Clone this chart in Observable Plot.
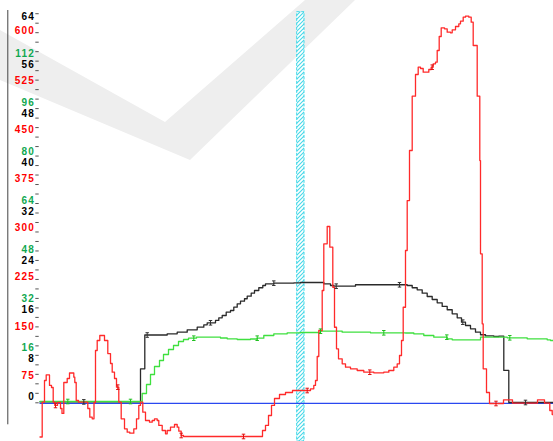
<!DOCTYPE html>
<html><head><meta charset="utf-8">
<script src="https://cdn.jsdelivr.net/npm/d3@7"></script>
<script src="https://cdn.jsdelivr.net/npm/@observablehq/plot@0.6"></script>
<style>body{margin:0;background:#fff}</style>
</head><body><div id="chart"></div>
<script>
// Axis tick labels (each series has its own scale)
const blackLabels = [0, 8, 16, 24, 32, 40, 48, 56, 64];
const redLabels = [75, 150, 225, 300, 375, 450, 525, 600];
const greenLabels = [16, 32, 48, 64, 80, 96, 112];

// Series: [time, value] in each series' own units (step-after)
const redSeries = [
  [0,-26.4],[2.2,26.7],[4.5,59.8],[6.2,68.2],[9.5,52.2],[11.5,49.1],[13.2,26.7],[14.8,21.7],
  [17.5,26.2],[20.5,17.1],[22,9.5],[23.8,56.7],[27.2,62.8],[29.5,71.2],[33.8,64.8],[34.8,56.7],
  [36.2,29.3],[38.5,26.7],[47.8,17.1],[49.8,3.8],[52.2,1.4],[54,26.2],[55.5,105.5],[57.2,120.8],
  [59.8,128.4],[64.5,120.8],[67.8,100.9],[70.5,85.7],[72.2,72.4],[74.5,62.8],[76.5,49.6],[78.8,26.7],
  [81.2,1.4],[84.5,-13.9],[87.2,-19.1],[89.8,-20.6],[93.8,-13.9],[96.5,1.4],[98.8,21.7],[100.5,26.7],
  [102.8,11.4],[105.5,-1.2],[109.5,-3.8],[112.2,-1.2],[114.5,1.4],[117.2,-1.2],[118.8,-8.8],[122.2,-16.5],
  [125.5,-21.5],[127.2,-16.5],[130.5,-11.4],[134.5,-7.3],[137.2,-11.4],[138.8,-17.5],[141.2,-24.1],[143.5,-25.6],
  [222.5,-16.5],[225.5,-8.8],[228.5,6.4],[231.5,21.7],[234.5,32.3],[239.5,38.4],[245.5,41.5],[252.5,44.5],
  [270.5,47.1],[273.8,52.2],[275.5,59.8],[277.2,96.4],[278.8,136.0],[282.2,197.0],[283.8,268.2],[287.2,294.6],
  [289.8,263.0],[292.8,202.0],[294.5,141.0],[296.5,108.1],[298.5,92.9],[302.2,85.2],[305.5,80.1],[310.5,77.6],
  [317.2,75.0],[323.8,72.4],[333.8,71.5],[343.8,72.4],[348.8,75.0],[353.8,80.1],[357.2,85.2],[359.5,97.9],
  [361.5,120.8],[363.2,171.5],[365.5,258.0],[367.2,334.2],[369.5,410.5],[372.2,493.3],[375.5,526.4],[378.2,537.5],
  [380.5,535.5],[383.2,529.9],[388.8,534.0],[391.2,537.5],[393.2,542.7],[395.5,545.1],[397.2,563.0],[399.2,584.3],
  [401.2,597.6],[404.5,596.1],[407.2,590.9],[410.5,590.0],[412.2,594.5],[415.5,599.6],[418.8,603.7],[420.5,607.7],
  [423.2,613.8],[425.5,615.3],[428.8,613.8],[431.2,606.1],[433.2,570.6],[437.2,493.3],[439.8,395.2],[440.5,253.0],
  [442.2,146.2],[443.2,77.6],[446.5,41.5],[449.5,24.7],[463.5,30.3],[472.5,25.2],[497.5,30.3],[504.5,25.2],
  [509.8,14.0],[512.2,7.9],[513.5,7.9]
];
const blackSeries = [
  [0,0.1],[100.5,5.51],[104.8,11.04],[127.2,11.24],[137.2,11.50],[147.2,11.89],[157.2,12.32],[163.8,12.71],
  [167.2,13.04],[175.5,13.42],[178.8,13.86],[182.2,14.23],[186.2,14.77],[190.5,15.05],[193.8,15.59],[197.2,16.15],
  [200.5,16.57],[204.5,16.97],[207.2,17.39],[211.2,17.88],[214.5,18.32],[218.8,18.77],[222.8,19.14],[225.5,19.42],
  [233.8,19.52],[253.8,19.58],[260.5,19.63],[283.8,19.42],[290.5,19.14],[293.8,19.03],[315.5,19.26],[367.2,19.14],
  [372.2,18.77],[377.2,18.44],[382.2,17.88],[387.2,17.34],[392.2,16.85],[397.2,16.31],[402.2,15.71],[407.2,15.17],
  [412.2,14.51],[417.2,13.86],[421.5,13.14],[425.5,12.60],[430.5,12.06],[435.5,11.50],[440.5,11.08],[445.5,10.91],
  [453.8,10.80],[458.8,10.85],[463.8,5.24],[468.8,0],[513.5,0]
];
const greenSeries = [
  [0,-3.15],[102.2,-0.54],[106.5,2.40],[110.5,5.66],[114.5,8.27],[119.5,10.23],[123.5,12.18],[128.5,13.81],
  [133.5,15.12],[138.5,16.42],[143.5,17.08],[148.5,17.50],[156.5,17.83],[180.5,17.57],[187.2,17.31],[197.2,17.08],
  [210.5,17.24],[217.2,17.50],[223.8,18.38],[233.8,18.94],[247.2,19.26],[260.5,19.36],[280.5,19.78],[302.2,19.46],
  [330.5,19.26],[365.5,19.20],[373.8,18.94],[383.8,18.38],[393.8,17.83],[407.2,17.31],[412.2,16.98],[440.5,17.83],
  [467.2,17.63],[487.2,17.31],[507.2,16.98],[510.5,16.75],[513.5,16.59]
];
// Sample marker times
const redMarkers = [15.5, 77.8, 141.2, 203.5, 267.2, 329.8, 392.2, 456];
const blackMarkers = [43.8, 107.2, 170.5, 233.8, 296.2, 359.5, 422.8, 485.5];
const greenMarkers = [27.8, 90.5, 153.8, 217.2, 280.5, 343.8, 406.8, 469.8];
// Highlighted time window
const bandStart = [257.2];
const bandEnd = [264.5];

// Each series' scale expressed in the common (black) scale
const redToCommon = d3.scaleLinear().domain([75, 600]).range([5.233, 61.559]);
const greenToCommon = d3.scaleLinear().domain([16, 112]).range([9.767, 57.914]);
const blackToCommon = v => v;

const rows = (s, f) => s.map(([t, v]) => ({t, y: f(v)}));
const valueAt = (s, t) => { let v = s[0][1]; for (const [tt, vv] of s) if (tt <= t) v = vv; return v; };
const markRows = (m, s, f) => m.map(t => ({t, y: f(valueAt(s, t))}));

const ibeam = {
  draw(ctx, size) {
    const s = Math.sqrt(size / Math.PI);
    const w = s * 0.75;
    ctx.moveTo(-w, -s); ctx.lineTo(w, -s);
    ctx.moveTo(0, -s); ctx.lineTo(0, s);
    ctx.moveTo(-w, s); ctx.lineTo(w, s);
  }
};

const tickCount = 42, tickStep = 1.5526;
const ticks = d3.range(tickCount).map(k => -0.05 + k * tickStep);

const labelFont = {fontSize: 10, fontWeight: "bold", fontFamily: "'Liberation Sans', Arial, sans-serif", frameAnchor: "left", dx: 34.5, textAnchor: "end"};

const svg = Plot.plot({
  width: 553, height: 441,
  marginLeft: 0, marginRight: 0, marginTop: 0, marginBottom: 0,
  style: {background: "#fff", overflow: "visible"},
  x: {domain: [0, 513.5], range: [39.5, 553], axis: null},
  y: {domain: [0, 64], range: [402, 10.8], axis: null},
  marks: [
    Plot.rect(bandStart.map((s, i) => ({x1: s, x2: bandEnd[i]})), {x1: "x1", x2: "x2", insetTop: 11.7, fill: "#fff", stroke: "#40d8e8", strokeDasharray: "3,1.5", strokeWidth: 1, ariaLabel: "hatch-band"}),
    Plot.ruleX([-32.2], {y1: 64.13, y2: -3.65, stroke: "#444", strokeWidth: 1}),
    Plot.tickY(ticks, {insetLeft: 35.3, insetRight: 514.3, stroke: "#555", strokeWidth: 1}),
    Plot.text(blackLabels.filter(d => d > 0), {...labelFont, y: d => blackToCommon(d), text: d => String(d), dy: 5, fill: "#000"}),
    Plot.text(blackLabels.filter(d => d === 0), {...labelFont, y: d => blackToCommon(d), text: d => String(d), dy: -5.3, fill: "#000"}),
    Plot.text(redLabels, {...labelFont, y: d => redToCommon(d), text: d => String(d), dy: 5, fill: "#ff0000"}),
    Plot.text(greenLabels, {...labelFont, y: d => greenToCommon(d), text: d => String(d), dy: 5, fill: "#10a850"}),
    Plot.ruleY([0], {x1: 0, x2: 513.5, dy: 0.8, stroke: "#2a48f0", strokeWidth: 1.3}),
    Plot.line(rows(blackSeries, blackToCommon), {x: "t", y: "y", curve: "step-after", stroke: "#2a2a2a", strokeWidth: 1.3}),
    Plot.line(rows(greenSeries, greenToCommon), {x: "t", y: "y", curve: "step-after", stroke: "#3fe03f", strokeWidth: 1.3}),
    Plot.line(rows(redSeries, redToCommon), {x: "t", y: "y", curve: "step-after", stroke: "#ff2a2a", strokeWidth: 1.3}),
    Plot.dot(markRows(blackMarkers, blackSeries, blackToCommon), {x: "t", y: "y", symbol: ibeam, r: 2.3, stroke: "#333", fill: "none", strokeWidth: 1}),
    Plot.dot(markRows(greenMarkers, greenSeries, greenToCommon), {x: "t", y: "y", symbol: ibeam, r: 2.3, stroke: "#20c020", fill: "none", strokeWidth: 1}),
    Plot.dot(markRows(redMarkers, redSeries, redToCommon), {x: "t", y: "y", symbol: ibeam, r: 2.3, stroke: "#e01010", fill: "none", strokeWidth: 1})
  ]
});

// hatch pattern for the highlighted window + faint background watermark
const root = d3.select(svg);
root.selectAll("text").style("letter-spacing", "1.2px");
const defs = root.insert("defs", ":first-child");
const pat = defs.append("pattern").attr("id", "hatch").attr("patternUnits", "userSpaceOnUse").attr("width", 4).attr("height", 4);
pat.append("rect").attr("width", 4).attr("height", 4).attr("fill", "#fff");
pat.append("path").attr("d", "M-1,1 L1,-1 M0,4 L4,0 M3,5 L5,3").attr("stroke", "#48d8e8").attr("stroke-width", 1.1);
root.selectAll("rect").filter(function () {
  const p = this.parentNode;
  return p && (p.getAttribute("stroke-dasharray") === "3,1.5" || p.getAttribute("aria-label") === "hatch-band" || this.getAttribute("stroke-dasharray") === "3,1.5");
}).attr("fill", "url(#hatch)").style("fill", "url(#hatch)");
root.insert("path", ":first-child")
  .attr("d", "M0,30 L165,122 L305,0 L355,0 L190,160 L0,80 Z")
  .attr("fill", "#eeeeee");

document.getElementById("chart").appendChild(svg);
</script>
</body></html>
